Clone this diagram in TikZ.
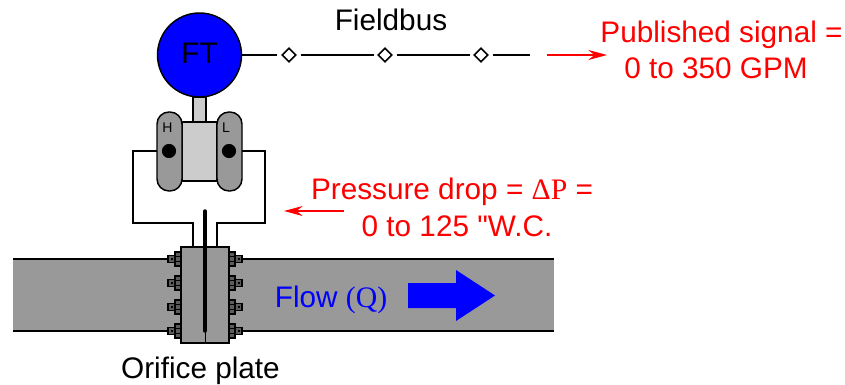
\documentclass[tikz,border=0pt]{standalone}
\usepackage{fontspec}
\setmainfont{Liberation Sans}
\newfontfamily\timesfont{Liberation Serif}
\newfontfamily\quotefont{Liberation Sans}
\usetikzlibrary{arrows.meta,shapes.geometric}
\definecolor{figGray}{HTML}{999999}
\definecolor{figLight}{HTML}{CCCCCC}
\tikzset{
  wire/.style={line width=1.1pt},
  bigtext/.style={font=\fontsize{22.3}{26}\selectfont,inner sep=0pt},
  sigarrow/.style={red,line width=0.8pt,-{Stealth[length=14pt,width=7.5pt]}},
  busnode/.style={diamond,draw,line width=1.2pt,fill=white,minimum size=10.5pt,inner sep=0pt},
}

\begin{document}
\begin{tikzpicture}[x=0.75pt,y=-0.75pt]
\useasboundingbox (0,0) rectangle (845,385);
% pipe
\fill[figGray] (13,259) rectangle (554,331);
\draw[wire] (13,259) -- (554,259);
\draw[wire] (13,331) -- (554,331);
% flange bolts
\foreach \y in {259,283,307,331} {
  \foreach \s/\x in {1/181,-1/229} {
    \begin{scope}[shift={(\x,\y)},xscale=\s]
    \draw[wire,fill=figGray!60!black] (-13,-3.5) rectangle (-6,3.5);
    \fill[black] (-10.5,-1) rectangle (-8.5,1);
    \draw[wire,fill=figGray!60!black] (-6,-7) rectangle (0,7);
    \draw[line width=1pt] (-6,-2.5) -- (0,-2.5) (-6,2.5) -- (0,2.5);
    \end{scope}
  }
}
% flange and plate
\draw[wire,fill=figGray] (181,247) rectangle (229,343);
\draw[line width=0.7pt] (205,247) -- (205,343);
\draw[line width=2.6pt,line cap=round] (205,211) -- (205,331);
% impulse lines
\coordinate (hport) at (169,151);
\coordinate (lport) at (229,151);
\draw[wire] (hport) -- (133,151) -- (133,223) -- (193,223) -- (193,247);
\draw[wire] (lport) -- (265,151) -- (265,223) -- (217,223) -- (217,247);
% transmitter
\draw[wire,fill=figLight] (193,97) rectangle (206,122);
\draw[wire,fill=figLight] (182,122) rectangle (217,181);
\draw[wire,fill=figGray,rounded corners=9pt] (157,112) rectangle (182,191);
\draw[wire,fill=figGray,rounded corners=9pt] (217,112) rectangle (242,191);
\fill (hport) circle (5.3pt);
\fill (lport) circle (5.3pt);
\node[font=\fontsize{10.5}{12}\selectfont,inner sep=0pt] (hlabel) at (167.5,128) {H};
\node[font=\fontsize{10.5}{12}\selectfont,inner sep=0pt] (llabel) at (226,128) {L};
\node[circle,draw,wire,fill=blue,minimum size=63pt,inner sep=0pt,bigtext] (ft) at (199.5,55) {\raisebox{3pt}{FT}};
% fieldbus
\node[busnode] (busA) at (289,55) {};
\node[busnode] (busB) at (385,55) {};
\node[busnode] (busC) at (481,55) {};
\coordinate (busend) at (530,55);
\draw[wire] (ft) -- (277,55);
\draw[wire] (300.5,55) -- (374,55);
\draw[wire] (396.5,55) -- (470,55);
\draw[wire] (492.5,55) -- (busend);
\node[bigtext] (fieldbus) at (391,20) {Fieldbus};
% published signal
\coordinate (pubtail) at (547,55);
\coordinate (pubtip) at (607,55);
\draw[sigarrow] (pubtail) -- (pubtip);
\node[bigtext,red] (pubA) at (721.5,35) {Published signal =};
\node[bigtext,red] (pubB) at (716,68) {0 to 350 GPM};
% pressure drop
\coordinate (droptail) at (344,211);
\coordinate (droptip) at (284,211);
\draw[sigarrow] (droptail) -- (droptip);
\node[bigtext,red] (dropA) at (452,192) {Pressure drop = {\timesfont ΔP} =};
\node[bigtext,red] (dropB) at (457,226) {0 to 125 {\quotefont "}W.C.};
% flow
\fill[blue] (408,283) -- (456,283) -- (456,270) -- (495,295.5) -- (456,321) -- (456,308) -- (408,308) -- cycle;
\node[bigtext,blue] (flow) at (331,299.5) {Flow {\timesfont (Q)}};
\node[bigtext] (orifice) at (200.5,371) {Orifice plate};
\end{tikzpicture}
\end{document}
